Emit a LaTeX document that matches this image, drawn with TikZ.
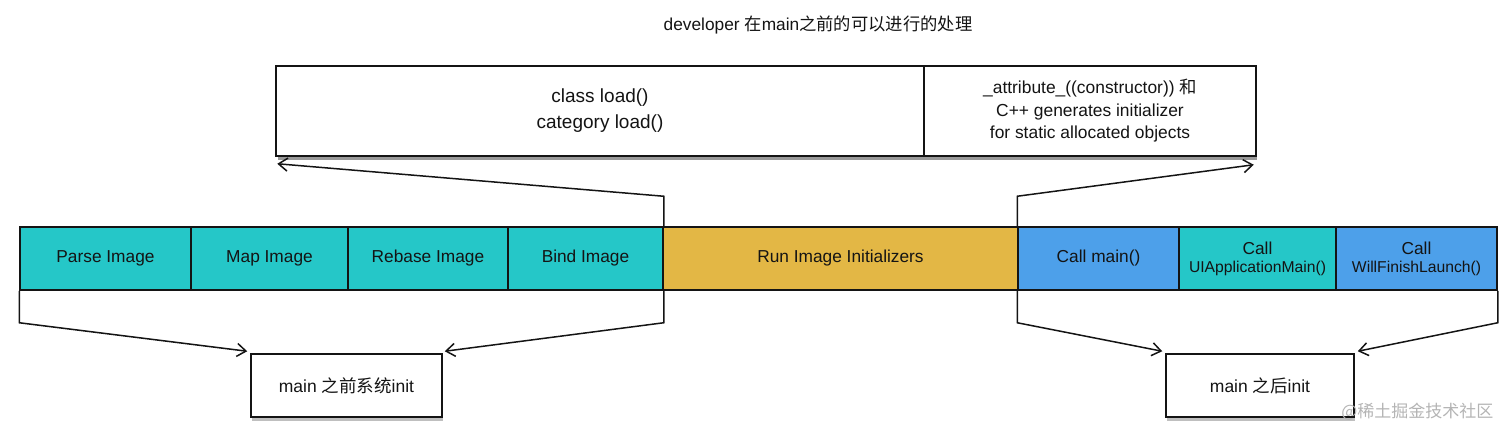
\documentclass[tikz,border=0pt]{standalone}
\usepackage{fontspec}
\setmainfont{Liberation Sans}
\newfontfamily\cjk{Noto Sans CJK SC}
\usetikzlibrary{arrows.meta,shadows}
\definecolor{tealc}{HTML}{25C7C8}
\definecolor{goldc}{HTML}{E3B745}
\definecolor{bluec}{HTML}{4DA0EA}
\definecolor{txt}{HTML}{141414}
\definecolor{wm}{HTML}{B4B4B4}
\tikzset{
  cell/.style={draw=txt, line width=1.5pt, minimum height=63pt, inner sep=0pt, text=txt,
    font=\fontsize{17.3}{20}\selectfont, align=center},
  tbox/.style={draw=txt, line width=1.5pt, fill=white, minimum height=90pt, inner sep=0pt, text=txt, align=center},
  bbox/.style={draw=txt, line width=1.5pt, fill=white, minimum height=63pt, inner sep=0pt, text=txt,
    font=\fontsize{17.5}{21}\selectfont,
    drop shadow={shadow xshift=1pt, shadow yshift=-4pt, opacity=0.5}},
  arr/.style={draw=txt, line width=1.5pt, -{Straight Barb[length=9pt,width=13pt,line width=1.5pt]}}
}
\begin{document}
\begin{tikzpicture}[x=1pt,y=-1pt]
\useasboundingbox (0,0) rectangle (1512,439);
% title
\node[text=txt, font=\fontsize{17.3}{20}\selectfont] (title) at (818,25) {developer {\cjk 在}main{\cjk 之前的可以进行的处理}};
% top box shadow
\fill[black, opacity=0.4] (278,156) rectangle (1257,160);
\node[tbox, minimum width=648pt, font=\fontsize{19}{26}\selectfont] (topL) at (600,111) {class load()\\category load()};
\node[tbox, minimum width=332pt, font=\fontsize{17.4}{22.5}\selectfont] (topR) at (1090,111) {\_attribute\_((constructor)) {\cjk 和}\\C++ generates initializer\\for static allocated objects};
% bar
\node[cell, fill=tealc, minimum width=171pt] (parse) at (105.5,258.5) {Parse Image};
\node[cell, fill=tealc, minimum width=157pt] (map) at (269.5,258.5) {Map Image};
\node[cell, fill=tealc, minimum width=160pt] (rebase) at (428,258.5) {Rebase Image};
\node[cell, fill=tealc, minimum width=155pt] (bind) at (585.5,258.5) {Bind Image};
\node[cell, fill=goldc, minimum width=355pt] (run) at (840.5,258.5) {Run Image Initializers};
\node[cell, fill=bluec, minimum width=161pt] (callmain) at (1098.5,258.5) {Call main()};
\node[cell, fill=tealc, minimum width=157pt] (uiapp) at (1257.5,258.5) {Call\\[-2pt]{\fontsize{15.7}{18}\selectfont UIApplicationMain()}};
\node[cell, fill=bluec, minimum width=161pt] (will) at (1416.5,258.5) {Call\\[-2pt]{\fontsize{15.7}{18}\selectfont WillFinishLaunch()}};
% bottom boxes
\node[bbox, minimum width=191pt] (sysinit) at (346.5,385.5) {main {\cjk 之前系统}init};
\node[bbox, minimum width=188pt] (postinit) at (1260,385.5) {main {\cjk 之后}init};
% connectors up
\draw[arr] (bind.north east) -- ++(0,-30) -- ([xshift=2pt,yshift=-7pt]topL.south west);
\draw[arr] (callmain.north west) -- ++(0,-30) -- ([xshift=-3pt,yshift=-8pt]topR.south east);
% connectors down
\draw[arr] (parse.south west) -- ++(0,32) -- ([xshift=-3pt,yshift=2pt]sysinit.north west);
\draw[arr] (bind.south east) -- ++(0,32) -- ([xshift=2pt,yshift=2pt]sysinit.north east);
\draw[arr] (callmain.south west) -- ++(0,32) -- ([xshift=-3pt,yshift=2pt]postinit.north west);
\draw[arr] (will.south east) -- ++(0,32) -- ([xshift=3pt,yshift=2pt]postinit.north east);
% watermark
\node[text=wm, font=\fontsize{17}{20}\selectfont\cjk, anchor=east] (wmark) at (1497,412) {@稀土掘金技术社区};
\end{tikzpicture}
\end{document}
